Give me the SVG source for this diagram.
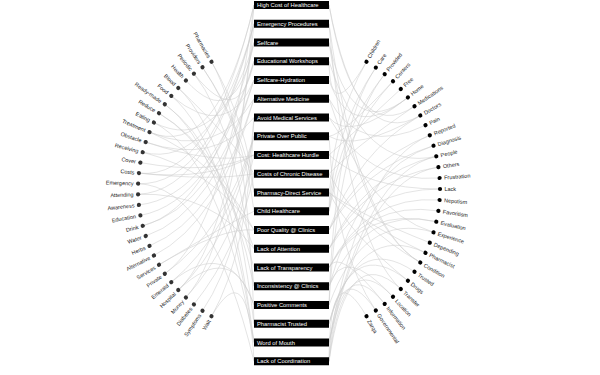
<svg xmlns="http://www.w3.org/2000/svg" width="600" height="375" viewBox="0 0 600 375">
<style>
.lk path{fill:none;stroke:#cdcdcd;stroke-width:.6;stroke-opacity:.9}
.bx rect{fill:#000}
.bx text{fill:#fff;font-family:"Liberation Sans",Arial,sans-serif;font-size:5.8px}
.nd text{fill:#222;font-family:"Liberation Sans",Arial,sans-serif;font-size:5.5px}
.nl circle{fill:#333}
.nr circle{fill:#000}
.nl text{text-anchor:end}
</style>
<rect width="600" height="375" fill="#fff"/>
<g id="links" class="lk">
<path d="M138.9,173.1Q211.95,181.05 254,5"/><path d="M185.9,297.5Q235.45,243.25 254,5"/><path d="M164.8,273.7Q224.9,231.35 254,5"/><path d="M149.5,132.1Q217.25,160.55 254,5"/><path d="M414.5,106.2Q353.75,147.6 329,5"/><path d="M420.3,115.5Q356.65,152.25 329,5"/>
<path d="M138.1,183.7Q211.55,186.35 254,23.75"/><path d="M178.3,290.1Q231.65,239.55 254,23.75"/><path d="M142.7,152.2Q213.85,170.6 254,23.75"/><path d="M138.1,194.3Q211.55,191.65 254,23.75"/><path d="M400.8,289Q346.9,239 329,23.75"/><path d="M420.3,262.5Q356.65,225.75 329,23.75"/>
<path d="M185.9,80.5Q235.45,134.75 254,42.5"/><path d="M153.9,122.5Q219.45,155.75 254,42.5"/><path d="M142.7,225.8Q213.85,207.4 254,42.5"/><path d="M407.9,97.4Q350.45,143.2 329,42.5"/><path d="M420.3,262.5Q356.65,225.75 329,42.5"/>
<path d="M140.4,215.4Q212.7,202.2 254,61.25"/><path d="M138.9,204.9Q211.95,196.95 254,61.25"/><path d="M193.9,73.6Q239.45,131.3 254,61.25"/><path d="M366.5,61.7Q329.75,125.35 329,61.25"/><path d="M436.3,156.3Q364.65,172.65 329,61.25"/>
<path d="M142.7,225.8Q213.85,207.4 254,80"/><path d="M145.7,236Q215.35,212.5 254,80"/><path d="M171.3,95.9Q228.15,142.45 254,80"/><path d="M407.9,97.4Q350.45,143.2 329,80"/>
<path d="M153.9,255.5Q219.45,222.25 254,98.75"/><path d="M149.5,245.9Q217.25,217.45 254,98.75"/><path d="M149.5,132.1Q217.25,160.55 254,98.75"/><path d="M425.5,125.2Q359.25,157.1 329,98.75"/><path d="M433.5,232.3Q363.25,210.65 329,98.75"/>
<path d="M211.5,316.3Q248.25,252.65 254,117.5"/><path d="M202.5,310.7Q243.75,249.85 254,117.5"/><path d="M145.7,142.1Q215.35,165.55 254,117.5"/><path d="M407.9,97.4Q350.45,143.2 329,117.5"/><path d="M439.6,178Q366.3,183.5 329,117.5"/>
<path d="M164.8,273.7Q224.9,231.35 254,136.25"/><path d="M178.3,290.1Q231.65,239.55 254,136.25"/><path d="M171.3,282.1Q228.15,235.55 254,136.25"/><path d="M375.8,310.5Q334.4,249.75 329,136.25"/><path d="M393,81.2Q343,135.1 329,136.25"/><path d="M420.3,115.5Q356.65,152.25 329,136.25"/>
<path d="M138.9,173.1Q211.95,181.05 254,155"/><path d="M140.4,162.6Q212.7,175.8 254,155"/><path d="M185.9,297.5Q235.45,243.25 254,155"/><path d="M145.7,142.1Q215.35,165.55 254,155"/><path d="M440,189Q366.5,189 329,155"/><path d="M400.8,89Q346.9,139 329,155"/>
<path d="M193.9,304.4Q239.45,246.7 254,173.75"/><path d="M178.3,87.9Q231.65,138.45 254,173.75"/><path d="M138.9,173.1Q211.95,181.05 254,173.75"/><path d="M414.5,106.2Q353.75,147.6 329,173.75"/><path d="M420.3,262.5Q356.65,225.75 329,173.75"/>
<path d="M211.5,61.7Q248.25,125.35 254,192.5"/><path d="M202.5,67.3Q243.75,128.15 254,192.5"/><path d="M425.5,252.8Q359.25,220.9 329,192.5"/><path d="M407.9,280.7Q350.45,234.85 329,192.5"/><path d="M429.8,242.7Q361.4,215.85 329,192.5"/>
<path d="M202.5,67.3Q243.75,128.15 254,211.25"/><path d="M159,264.8Q222,226.9 254,211.25"/><path d="M366.5,61.7Q329.75,125.35 329,211.25"/><path d="M375.8,67.6Q334.4,128.3 329,211.25"/><path d="M384.7,74.1Q338.85,131.55 329,211.25"/><path d="M393,81.2Q343,135.1 329,211.25"/>
<path d="M159,264.8Q222,226.9 254,230"/><path d="M142.7,152.2Q213.85,170.6 254,230"/><path d="M149.5,132.1Q217.25,160.55 254,230"/><path d="M420.3,115.5Q356.65,152.25 329,230"/><path d="M433.5,145.7Q363.25,167.35 329,230"/><path d="M429.8,135.3Q361.4,162.15 329,230"/>
<path d="M138.1,194.3Q211.55,191.65 254,248.75"/><path d="M159,113.2Q222,151.1 254,248.75"/><path d="M440,189Q366.5,189 329,248.75"/><path d="M438.4,167.1Q365.7,178.05 329,248.75"/><path d="M436.3,156.3Q364.65,172.65 329,248.75"/>
<path d="M159,113.2Q222,151.1 254,267.5"/><path d="M384.7,303.9Q338.85,246.45 329,267.5"/><path d="M438.4,210.9Q365.7,199.95 329,267.5"/><path d="M439.6,200Q366.3,194.5 329,267.5"/><path d="M436.3,221.7Q364.65,205.35 329,267.5"/>
<path d="M193.9,73.6Q239.45,131.3 254,286.25"/><path d="M164.8,104.3Q224.9,146.65 254,286.25"/><path d="M433.5,145.7Q363.25,167.35 329,286.25"/><path d="M436.3,221.7Q364.65,205.35 329,286.25"/><path d="M393,296.8Q343,242.9 329,286.25"/>
<path d="M171.3,282.1Q228.15,235.55 254,305"/><path d="M178.3,290.1Q231.65,239.55 254,305"/><path d="M433.5,232.3Q363.25,210.65 329,305"/><path d="M375.8,67.6Q334.4,128.3 329,305"/><path d="M384.7,74.1Q338.85,131.55 329,305"/>
<path d="M211.5,61.7Q248.25,125.35 254,323.75"/><path d="M178.3,87.9Q231.65,138.45 254,323.75"/><path d="M425.5,252.8Q359.25,220.9 329,323.75"/><path d="M414.5,271.8Q353.75,230.4 329,323.75"/><path d="M407.9,280.7Q350.45,234.85 329,323.75"/>
<path d="M171.3,95.9Q228.15,142.45 254,342.5"/><path d="M164.8,104.3Q224.9,146.65 254,342.5"/><path d="M153.9,122.5Q219.45,155.75 254,342.5"/><path d="M436.3,156.3Q364.65,172.65 329,342.5"/><path d="M438.4,167.1Q365.7,178.05 329,342.5"/><path d="M429.8,135.3Q361.4,162.15 329,342.5"/>
<path d="M138.1,183.7Q211.55,186.35 254,361.25"/><path d="M211.5,316.3Q248.25,252.65 254,361.25"/><path d="M400.8,289Q346.9,239 329,361.25"/><path d="M393,296.8Q343,242.9 329,361.25"/><path d="M384.7,303.9Q338.85,246.45 329,361.25"/><path d="M366.5,316.3Q329.75,252.65 329,361.25"/><path d="M375.8,310.5Q334.4,249.75 329,361.25"/>
</g>
<g class="bx">
<g id="b0"><rect x="254" y="1" width="75" height="8"/><text x="257" y="7">High Cost of Healthcare</text></g>
<g id="b1"><rect x="254" y="19.75" width="75" height="8"/><text x="257" y="25.75">Emergency Procedures</text></g>
<g id="b2"><rect x="254" y="38.5" width="75" height="8"/><text x="257" y="44.5">Selfcare</text></g>
<g id="b3"><rect x="254" y="57.25" width="75" height="8"/><text x="257" y="63.25">Educational Workshops</text></g>
<g id="b4"><rect x="254" y="76" width="75" height="8"/><text x="257" y="82">Selfcare-Hydration</text></g>
<g id="b5"><rect x="254" y="94.75" width="75" height="8"/><text x="257" y="100.75">Alternative Medicine</text></g>
<g id="b6"><rect x="254" y="113.5" width="75" height="8"/><text x="257" y="119.5">Avoid Medical Services</text></g>
<g id="b7"><rect x="254" y="132.25" width="75" height="8"/><text x="257" y="138.25">Private Over Public</text></g>
<g id="b8"><rect x="254" y="151" width="75" height="8"/><text x="257" y="157">Cost: Healthcare Hurdle</text></g>
<g id="b9"><rect x="254" y="169.75" width="75" height="8"/><text x="257" y="175.75">Costs of Chronic Disease</text></g>
<g id="b10"><rect x="254" y="188.5" width="75" height="8"/><text x="257" y="194.5">Pharmacy-Direct Service</text></g>
<g id="b11"><rect x="254" y="207.25" width="75" height="8"/><text x="257" y="213.25">Child Healthcare</text></g>
<g id="b12"><rect x="254" y="226" width="75" height="8"/><text x="257" y="232">Poor Quality @ Clinics</text></g>
<g id="b13"><rect x="254" y="244.75" width="75" height="8"/><text x="257" y="250.75">Lack of Attention</text></g>
<g id="b14"><rect x="254" y="263.5" width="75" height="8"/><text x="257" y="269.5">Lack of Transparency</text></g>
<g id="b15"><rect x="254" y="282.25" width="75" height="8"/><text x="257" y="288.25">Inconsistency @ Clinics</text></g>
<g id="b16"><rect x="254" y="301" width="75" height="8"/><text x="257" y="307">Positive Comments</text></g>
<g id="b17"><rect x="254" y="319.75" width="75" height="8"/><text x="257" y="325.75">Pharmacist Trusted</text></g>
<g id="b18"><rect x="254" y="338.5" width="75" height="8"/><text x="257" y="344.5">Word of Mouth</text></g>
<g id="b19"><rect x="254" y="357.25" width="75" height="8"/><text x="257" y="363.25">Lack of Coordination</text></g>
</g>
<g class="nd nl">
<g id="l0" transform="translate(211.5,61.7) rotate(60)"><circle r="2.1"/><text x="-4.5" dy="1.9">Pharmacies</text></g>
<g id="l1" transform="translate(202.5,67.3) rotate(55.86)"><circle r="2.1"/><text x="-4.5" dy="1.9">Providers</text></g>
<g id="l2" transform="translate(193.9,73.6) rotate(51.72)"><circle r="2.1"/><text x="-4.5" dy="1.9">Periodic</text></g>
<g id="l3" transform="translate(185.9,80.5) rotate(47.59)"><circle r="2.1"/><text x="-4.5" dy="1.9">Health</text></g>
<g id="l4" transform="translate(178.3,87.9) rotate(43.45)"><circle r="2.1"/><text x="-4.5" dy="1.9">Blood</text></g>
<g id="l5" transform="translate(171.3,95.9) rotate(39.31)"><circle r="2.1"/><text x="-4.5" dy="1.9">Food</text></g>
<g id="l6" transform="translate(164.8,104.3) rotate(35.17)"><circle r="2.1"/><text x="-4.5" dy="1.9">Ready-made</text></g>
<g id="l7" transform="translate(159,113.2) rotate(31.03)"><circle r="2.1"/><text x="-4.5" dy="1.9">Reduce</text></g>
<g id="l8" transform="translate(153.9,122.5) rotate(26.9)"><circle r="2.1"/><text x="-4.5" dy="1.9">Eating</text></g>
<g id="l9" transform="translate(149.5,132.1) rotate(22.76)"><circle r="2.1"/><text x="-4.5" dy="1.9">Treatment</text></g>
<g id="l10" transform="translate(145.7,142.1) rotate(18.62)"><circle r="2.1"/><text x="-4.5" dy="1.9">Obstacle</text></g>
<g id="l11" transform="translate(142.7,152.2) rotate(14.48)"><circle r="2.1"/><text x="-4.5" dy="1.9">Receiving</text></g>
<g id="l12" transform="translate(140.4,162.6) rotate(10.34)"><circle r="2.1"/><text x="-4.5" dy="1.9">Cover</text></g>
<g id="l13" transform="translate(138.9,173.1) rotate(6.21)"><circle r="2.1"/><text x="-4.5" dy="1.9">Costs</text></g>
<g id="l14" transform="translate(138.1,183.7) rotate(2.07)"><circle r="2.1"/><text x="-4.5" dy="1.9">Emergency</text></g>
<g id="l15" transform="translate(138.1,194.3) rotate(-2.07)"><circle r="2.1"/><text x="-4.5" dy="1.9">Attending</text></g>
<g id="l16" transform="translate(138.9,204.9) rotate(-6.21)"><circle r="2.1"/><text x="-4.5" dy="1.9">Awareness</text></g>
<g id="l17" transform="translate(140.4,215.4) rotate(-10.34)"><circle r="2.1"/><text x="-4.5" dy="1.9">Education</text></g>
<g id="l18" transform="translate(142.7,225.8) rotate(-14.48)"><circle r="2.1"/><text x="-4.5" dy="1.9">Drink</text></g>
<g id="l19" transform="translate(145.7,236) rotate(-18.62)"><circle r="2.1"/><text x="-4.5" dy="1.9">Water</text></g>
<g id="l20" transform="translate(149.5,245.9) rotate(-22.76)"><circle r="2.1"/><text x="-4.5" dy="1.9">Herbs</text></g>
<g id="l21" transform="translate(153.9,255.5) rotate(-26.9)"><circle r="2.1"/><text x="-4.5" dy="1.9">Alternative</text></g>
<g id="l22" transform="translate(159,264.8) rotate(-31.03)"><circle r="2.1"/><text x="-4.5" dy="1.9">Services</text></g>
<g id="l23" transform="translate(164.8,273.7) rotate(-35.17)"><circle r="2.1"/><text x="-4.5" dy="1.9">Private</text></g>
<g id="l24" transform="translate(171.3,282.1) rotate(-39.31)"><circle r="2.1"/><text x="-4.5" dy="1.9">Emerald</text></g>
<g id="l25" transform="translate(178.3,290.1) rotate(-43.45)"><circle r="2.1"/><text x="-4.5" dy="1.9">Hospital</text></g>
<g id="l26" transform="translate(185.9,297.5) rotate(-47.59)"><circle r="2.1"/><text x="-4.5" dy="1.9">Money</text></g>
<g id="l27" transform="translate(193.9,304.4) rotate(-51.72)"><circle r="2.1"/><text x="-4.5" dy="1.9">Diabetes</text></g>
<g id="l28" transform="translate(202.5,310.7) rotate(-55.86)"><circle r="2.1"/><text x="-4.5" dy="1.9">Symptoms</text></g>
<g id="l29" transform="translate(211.5,316.3) rotate(-60)"><circle r="2.1"/><text x="-4.5" dy="1.9">Wait</text></g>
</g>
<g class="nd nr">
<g id="r0" transform="translate(366.5,61.7) rotate(-60)"><circle r="2.1"/><text x="4.5" dy="1.9">Children</text></g>
<g id="r1" transform="translate(375.8,67.6) rotate(-55.71)"><circle r="2.1"/><text x="4.5" dy="1.9">Care</text></g>
<g id="r2" transform="translate(384.7,74.1) rotate(-51.43)"><circle r="2.1"/><text x="4.5" dy="1.9">Provided</text></g>
<g id="r3" transform="translate(393,81.2) rotate(-47.14)"><circle r="2.1"/><text x="4.5" dy="1.9">Centers</text></g>
<g id="r4" transform="translate(400.8,89) rotate(-42.86)"><circle r="2.1"/><text x="4.5" dy="1.9">Free</text></g>
<g id="r5" transform="translate(407.9,97.4) rotate(-38.57)"><circle r="2.1"/><text x="4.5" dy="1.9">Home</text></g>
<g id="r6" transform="translate(414.5,106.2) rotate(-34.29)"><circle r="2.1"/><text x="4.5" dy="1.9">Medications</text></g>
<g id="r7" transform="translate(420.3,115.5) rotate(-30)"><circle r="2.1"/><text x="4.5" dy="1.9">Doctors</text></g>
<g id="r8" transform="translate(425.5,125.2) rotate(-25.71)"><circle r="2.1"/><text x="4.5" dy="1.9">Pain</text></g>
<g id="r9" transform="translate(429.8,135.3) rotate(-21.43)"><circle r="2.1"/><text x="4.5" dy="1.9">Reported</text></g>
<g id="r10" transform="translate(433.5,145.7) rotate(-17.14)"><circle r="2.1"/><text x="4.5" dy="1.9">Diagnosis</text></g>
<g id="r11" transform="translate(436.3,156.3) rotate(-12.86)"><circle r="2.1"/><text x="4.5" dy="1.9">People</text></g>
<g id="r12" transform="translate(438.4,167.1) rotate(-8.57)"><circle r="2.1"/><text x="4.5" dy="1.9">Others</text></g>
<g id="r13" transform="translate(439.6,178) rotate(-4.29)"><circle r="2.1"/><text x="4.5" dy="1.9">Frustration</text></g>
<g id="r14" transform="translate(440,189)"><circle r="2.1"/><text x="4.5" dy="1.9">Lack</text></g>
<g id="r15" transform="translate(439.6,200) rotate(4.29)"><circle r="2.1"/><text x="4.5" dy="1.9">Nepotism</text></g>
<g id="r16" transform="translate(438.4,210.9) rotate(8.57)"><circle r="2.1"/><text x="4.5" dy="1.9">Favoritism</text></g>
<g id="r17" transform="translate(436.3,221.7) rotate(12.86)"><circle r="2.1"/><text x="4.5" dy="1.9">Evaluation</text></g>
<g id="r18" transform="translate(433.5,232.3) rotate(17.14)"><circle r="2.1"/><text x="4.5" dy="1.9">Experience</text></g>
<g id="r19" transform="translate(429.8,242.7) rotate(21.43)"><circle r="2.1"/><text x="4.5" dy="1.9">Depending</text></g>
<g id="r20" transform="translate(425.5,252.8) rotate(25.71)"><circle r="2.1"/><text x="4.5" dy="1.9">Pharmacist</text></g>
<g id="r21" transform="translate(420.3,262.5) rotate(30)"><circle r="2.1"/><text x="4.5" dy="1.9">Condition</text></g>
<g id="r22" transform="translate(414.5,271.8) rotate(34.29)"><circle r="2.1"/><text x="4.5" dy="1.9">Trusted</text></g>
<g id="r23" transform="translate(407.9,280.7) rotate(38.57)"><circle r="2.1"/><text x="4.5" dy="1.9">Drugs</text></g>
<g id="r24" transform="translate(400.8,289) rotate(42.86)"><circle r="2.1"/><text x="4.5" dy="1.9">Transfer</text></g>
<g id="r25" transform="translate(393,296.8) rotate(47.14)"><circle r="2.1"/><text x="4.5" dy="1.9">Location</text></g>
<g id="r26" transform="translate(384.7,303.9) rotate(51.43)"><circle r="2.1"/><text x="4.5" dy="1.9">Information</text></g>
<g id="r27" transform="translate(375.8,310.5) rotate(55.71)"><circle r="2.1"/><text x="4.5" dy="1.9">Governmental</text></g>
<g id="r28" transform="translate(366.5,316.3) rotate(60)"><circle r="2.1"/><text x="4.5" dy="1.9">Zarqa</text></g>
</g>
</svg>
